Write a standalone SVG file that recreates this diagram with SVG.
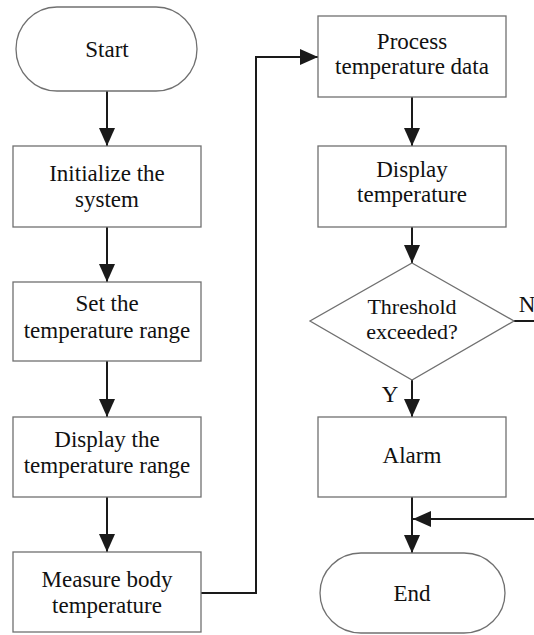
<svg xmlns="http://www.w3.org/2000/svg" width="534" height="635" viewBox="0 0 534 635" font-family="Liberation Serif, Times New Roman, serif">
<style>
.box{fill:#fff;stroke:#707070;stroke-width:1.3}
text{font-family:"Liberation Serif","Times New Roman",serif;font-size:23px;fill:#111;text-anchor:middle}
.s{font-size:22px}
.c{fill:none;stroke:#1a1a1a;stroke-width:2}
</style>
<defs>
<marker id="ah" markerUnits="userSpaceOnUse" markerWidth="18" markerHeight="16" refX="18" refY="8" orient="auto">
<path d="M0,0 L18,8 L0,16 z" fill="#1a1a1a"/>
</marker>
</defs>
<rect width="534" height="635" fill="#fff"/>
<g id="connectors">
<path class="c" d="M107,91 V146" marker-end="url(#ah)"/>
<path class="c" d="M107,227 V282" marker-end="url(#ah)"/>
<path class="c" d="M107,361 V417" marker-end="url(#ah)"/>
<path class="c" d="M107,497 V552" marker-end="url(#ah)"/>
<path class="c" d="M201,593 H256 V57 H318" marker-end="url(#ah)"/>
<path class="c" d="M412,97 V146" marker-end="url(#ah)"/>
<path class="c" d="M412,227 V263" marker-end="url(#ah)"/>
<path class="c" d="M412,380 V417" marker-end="url(#ah)"/>
<path class="c" d="M412,497 V553" marker-end="url(#ah)"/>
<path class="c" d="M514,321 H534"/>
<path class="c" d="M534,519 H413" marker-end="url(#ah)"/>
<text x="527" y="312">N</text>
<text x="390" y="402">Y</text>
</g>
<g id="start">
<rect class="box" x="16" y="7" width="181" height="84" rx="41" ry="42"/>
<text x="107" y="57">Start</text>
</g>
<g id="init">
<rect class="box" x="13" y="146" width="188" height="81"/>
<text x="107" y="181">Initialize the</text>
<text x="107" y="207">system</text>
</g>
<g id="set-range">
<rect class="box" x="13" y="282" width="188" height="79"/>
<text x="107" y="311">Set the</text>
<text x="107" y="338">temperature range</text>
</g>
<g id="display-range">
<rect class="box" x="13" y="417" width="188" height="80"/>
<text x="107" y="447">Display the</text>
<text x="107" y="473">temperature range</text>
</g>
<g id="measure">
<rect class="box" x="13" y="552" width="188" height="80"/>
<text x="107" y="587">Measure body</text>
<text x="107" y="613">temperature</text>
</g>
<g id="process">
<rect class="box" x="318" y="16" width="188" height="81"/>
<text x="412" y="49">Process</text>
<text x="412" y="74">temperature data</text>
</g>
<g id="display-temp">
<rect class="box" x="318" y="146" width="188" height="81"/>
<text x="412" y="177">Display</text>
<text x="412" y="202">temperature</text>
</g>
<g id="threshold">
<polygon class="box" points="412,263 514,321 412,380 310,321"/>
<text class="s" x="412" y="314">Threshold</text>
<text class="s" x="412" y="339">exceeded?</text>
</g>
<g id="alarm">
<rect class="box" x="318" y="417" width="188" height="80"/>
<text x="412" y="463">Alarm</text>
</g>
<g id="end">
<rect class="box" x="320" y="553" width="185" height="80" rx="41" ry="40"/>
<text x="412" y="601">End</text>
</g>
</svg>
